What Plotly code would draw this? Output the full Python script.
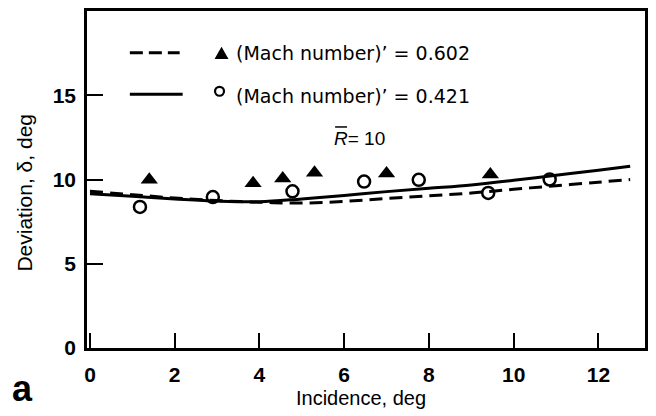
import plotly.graph_objects as go

# ---- data ----
curve_incidence = [0, 1, 2, 3, 4, 5, 6, 7, 8, 9, 10, 11, 12, 12.75]
dev_mach_0602 = [9.3, 9.1, 8.9, 8.75, 8.65, 8.6, 8.7, 8.87, 9.03, 9.2, 9.42, 9.63, 9.84, 10.0]
dev_mach_0421 = [9.15, 9.0, 8.85, 8.72, 8.68, 8.85, 9.05, 9.28, 9.48, 9.68, 9.95, 10.25, 10.55, 10.78]

tri_incidence = [1.4, 3.85, 4.55, 5.3, 7.0, 9.45]
tri_deviation = [9.98, 9.78, 10.06, 10.4, 10.35, 10.3]

circ_incidence = [1.18, 2.9, 4.78, 6.47, 7.76, 9.4, 10.85]
circ_deviation = [8.37, 8.96, 9.3, 9.88, 9.98, 9.2, 10.0]

x_ticks = [0, 2, 4, 6, 8, 10, 12]
y_ticks = [0, 5, 10, 15]

legend_labels = ["(Mach number)\u2019 = 0.602", "(Mach number)\u2019 = 0.421"]
param_label = "<i>R</i>= 10"

FONT = "Liberation Sans, Arial, sans-serif"
LFONT = "DejaVu Sans, sans-serif"

fig = go.Figure()
fig.add_trace(go.Scatter(x=curve_incidence, y=dev_mach_0602, mode="lines",
                         line=dict(color="black", width=3, dash="13px,7px", shape="spline"),
                         hoverinfo="skip"))
fig.add_trace(go.Scatter(x=curve_incidence, y=dev_mach_0421, mode="lines",
                         line=dict(color="black", width=3, shape="spline"),
                         hoverinfo="skip"))
fig.add_trace(go.Scatter(x=tri_incidence, y=tri_deviation, mode="markers",
                         marker=dict(symbol="triangle-up", size=15, color="black",
                                     line=dict(width=0))))
fig.add_trace(go.Scatter(x=circ_incidence, y=circ_deviation, mode="markers",
                         marker=dict(symbol="circle-open", size=12, color="black",
                                     line=dict(width=2.5, color="black"))))

# plot area geometry in px: left 87, right 647, top 8, bottom 348
L, R, T, B = 87, 647, 8, 348
W, H = R - L, B - T
def px(x): return (x - L) / W
def py(y): return (B - y) / H

shapes = [
    # legend line samples
    dict(type="line", xref="paper", yref="paper", x0=px(130), x1=px(180), y0=py(50), y1=py(50),
         line=dict(color="black", width=3, dash="13px,6px")),
    dict(type="line", xref="paper", yref="paper", x0=px(130), x1=px(183), y0=py(92), y1=py(92),
         line=dict(color="black", width=3)),
    # legend triangle
    dict(type="path", xref="paper", yref="paper",
         path=f"M {px(215)} {py(56.5)} L {px(229)} {py(56.5)} L {px(222)} {py(44)} Z",
         fillcolor="black", line=dict(width=0)),
    # legend circle
    dict(type="circle", xref="paper", yref="paper",
         x0=px(215.5), x1=px(224.5), y0=py(93.5), y1=py(84.5),
         line=dict(color="black", width=2.2)),
    # overbar on R
    dict(type="line", xref="paper", yref="paper", x0=px(336), x1=px(348), y0=py(125), y1=py(125),
         line=dict(color="black", width=1.5)),
]

annotations = [
    dict(text=legend_labels[0], xref="paper", yref="paper", x=px(235), y=py(50),
         xanchor="left", yanchor="middle", showarrow=False,
         font=dict(family=LFONT, size=19, color="black")),
    dict(text=legend_labels[1], xref="paper", yref="paper", x=px(235), y=py(94),
         xanchor="left", yanchor="middle", showarrow=False,
         font=dict(family=LFONT, size=19, color="black")),
    dict(text=param_label, xref="paper", yref="paper", x=px(333), y=py(137),
         xanchor="left", yanchor="middle", showarrow=False,
         font=dict(family=FONT, size=19, color="black")),
    dict(text="Incidence, deg", xref="paper", yref="paper", x=px(362), y=py(398),
         xanchor="center", yanchor="middle", showarrow=False,
         font=dict(family=FONT, size=20, color="black")),
    dict(text="Deviation, \u03b4, deg", xref="paper", yref="paper", x=px(24), y=py(191),
         xanchor="center", yanchor="middle", showarrow=False, textangle=-90,
         font=dict(family=FONT, size=21, color="black")),
    dict(text="<b>a</b>", xref="paper", yref="paper", x=px(22), y=py(389),
         xanchor="center", yanchor="middle", showarrow=False,
         font=dict(family=FONT, size=36, color="black")),
]

fig.update_layout(
    width=656, height=416,
    margin=dict(l=L, r=656 - R, t=T, b=416 - B, pad=0),
    paper_bgcolor="white", plot_bgcolor="white",
    showlegend=False,
    shapes=shapes, annotations=annotations,
    xaxis=dict(range=[-0.07, 13.1], tickvals=x_ticks, ticktext=[f"<b>{v}</b>" for v in x_ticks],
               ticks="inside", ticklen=15, tickwidth=2, tickcolor="black",
               showline=True, linecolor="black", linewidth=2.5, mirror=True,
               showgrid=False, zeroline=False, ticklabelstandoff=6,
               tickfont=dict(family=FONT, size=21, color="black")),
    yaxis=dict(range=[0, 20], tickvals=y_ticks, ticktext=[f"<b>{v}</b>" for v in y_ticks],
               ticks="inside", ticklen=16, tickwidth=2, tickcolor="black",
               showline=True, linecolor="black", linewidth=2.5, mirror=True,
               showgrid=False, zeroline=False, ticklabelstandoff=4,
               tickfont=dict(family=FONT, size=21, color="black")),
)

fig.write_html("out.html")
